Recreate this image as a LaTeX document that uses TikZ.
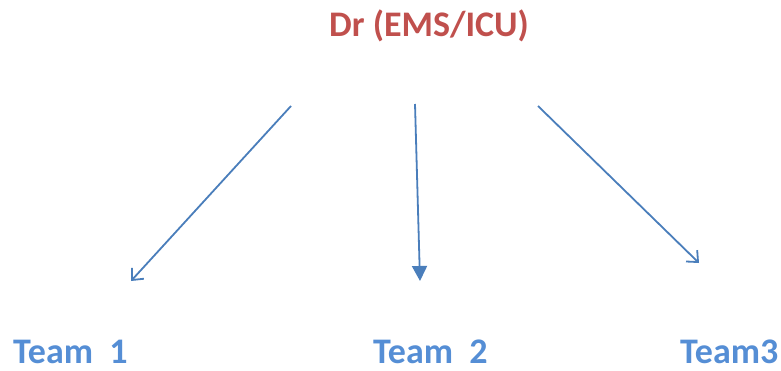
\documentclass[tikz,border=0pt]{standalone}
\usepackage{fontspec}
\setmainfont{Carlito}
\usepackage{tikz}
\usetikzlibrary{arrows.meta}
\definecolor{drred}{HTML}{C0504D}
\definecolor{teamblue}{HTML}{558ED5}
\definecolor{linkblue}{HTML}{4A7EBB}

\begin{document}
\begin{tikzpicture}
[x=1pt,y=1pt,every node/.style={inner sep=0pt,anchor=base west,font=\fontsize{36}{42}\selectfont\bfseries},
team/.style={text=teamblue},
link/.style={draw=linkblue,line width=1.8pt}]
\useasboundingbox (0,0) rectangle (781,370);
\node[text=drred] (dr) at (329,333) {Dr (EMS/ICU)};
\node[team] (t1) at (13,7) {Team\ \ 1};
\node[team] (t2) at (373,7) {Team\ \ 2};
\node[team] (t3) at (680,7) {Team3};
\coordinate (a1) at (291,264);
\coordinate (b1) at (131,89);
\coordinate (a2) at (415,266);
\coordinate (b2) at (420,89);
\coordinate (a3) at (538,264);
\coordinate (b3) at (699,107);
\draw[link,-{Straight Barb[length=9pt,width=16pt]}] (a1) -- (b1);
\draw[link,-{Triangle[length=15pt,width=15pt]}] (a2) -- (b2);
\draw[link,-{Straight Barb[length=9pt,width=16pt]}] (a3) -- (b3);
\end{tikzpicture}
\end{document}
